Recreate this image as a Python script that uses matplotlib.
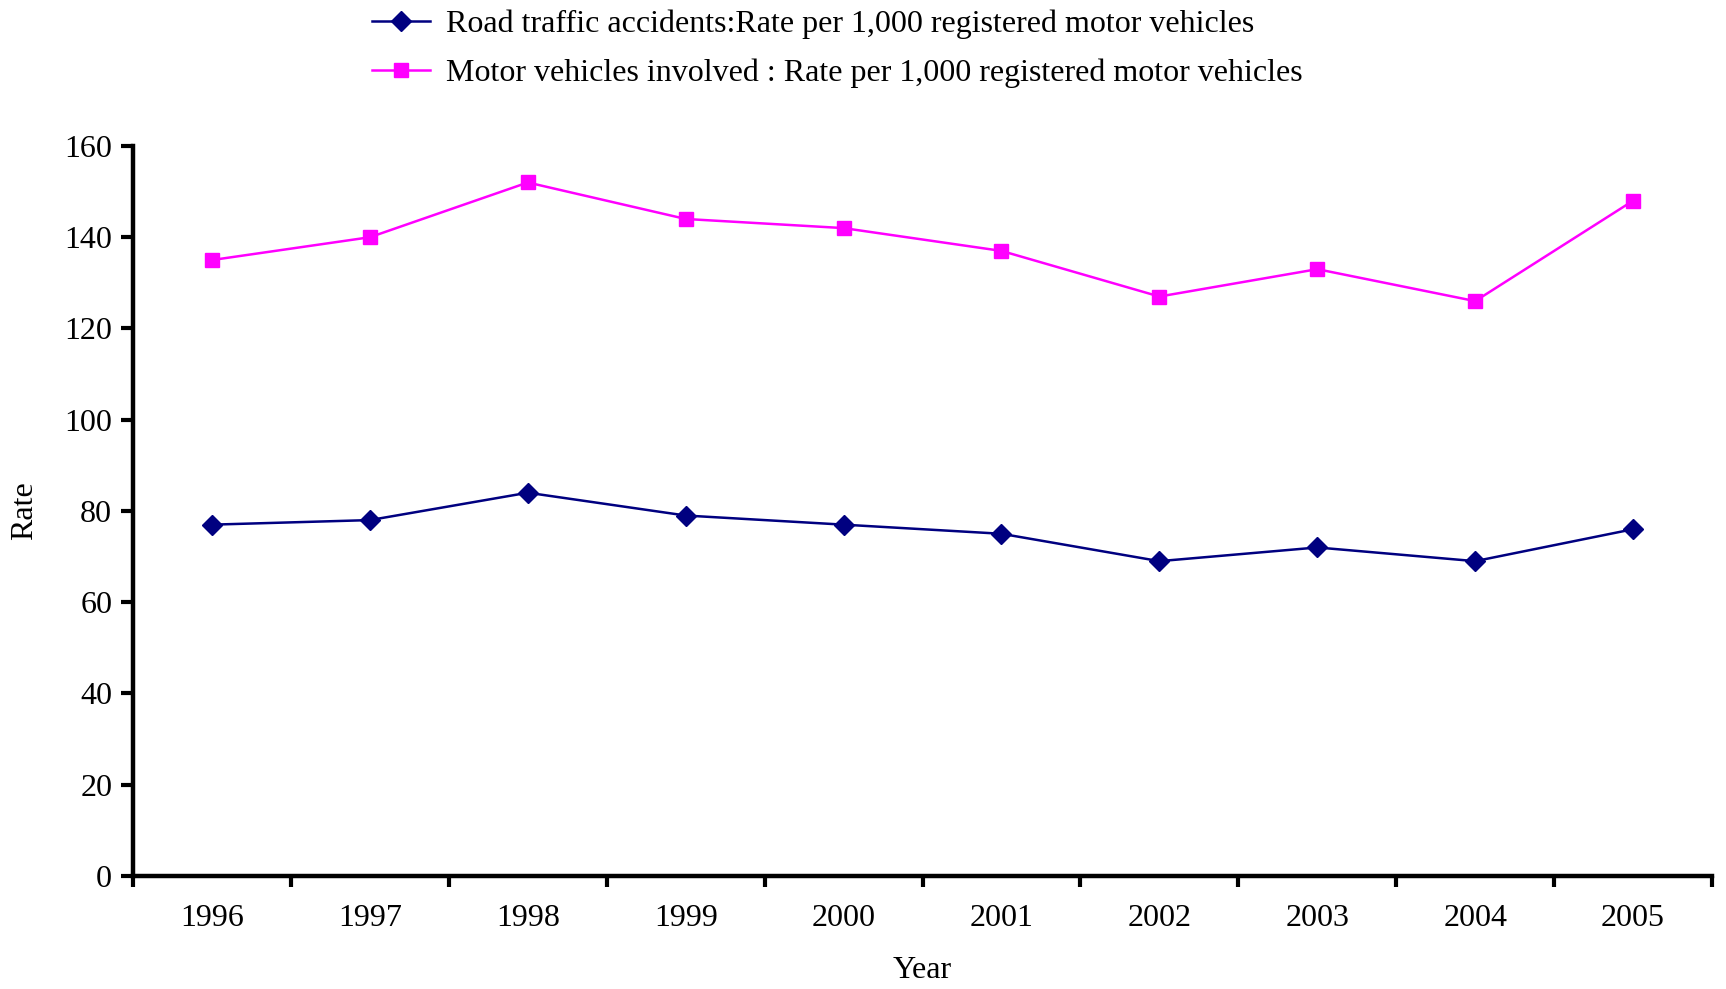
import numpy as np
import matplotlib
matplotlib.use("Agg")
import matplotlib.pyplot as plt

# datos
years = ["1996", "1997", "1998", "1999", "2000", "2001", "2002", "2003", "2004", "2005"]
accidents_rate = [77, 78, 84, 79, 77, 75, 69, 72, 69, 76]
vehicles_rate = [135, 140, 152, 144, 142, 137, 127, 133, 126, 148]

label_acc = "Road traffic accidents:Rate per 1,000 registered motor vehicles"
label_veh = "Motor vehicles involved : Rate per 1,000 registered motor vehicles"

plt.rcParams['font.family'] = ['Liberation Serif', 'DejaVu Serif']

fig = plt.figure(figsize=(17.26, 9.89), dpi=100)
ax = fig.add_axes([0.0771, 0.1143, 0.9148, 0.7381])

x = np.arange(len(years))
ax.plot(x, accidents_rate, color="#000080", marker="D", markersize=10,
        linewidth=1.8, label=label_acc)
ax.plot(x, vehicles_rate, color="#FF00FF", marker="s", markersize=10,
        linewidth=1.8, label=label_veh)

# ejes
ax.set_xlim(-0.5, len(years) - 0.5)
ax.set_ylim(0, 160)
ax.set_yticks(np.arange(0, 161, 20))
ax.set_xticks(x)
ax.set_xticklabels(years)
ax.set_xticks(np.arange(-0.5, len(years), 1.0), minor=True)

for side in ["top", "right"]:
    ax.spines[side].set_visible(False)
for side in ["left", "bottom"]:
    ax.spines[side].set_linewidth(3.2)

ax.tick_params(axis="x", which="major", length=0, pad=20, labelsize=23)
ax.tick_params(axis="x", which="minor", length=8, width=3.0, direction="out")
ax.tick_params(axis="y", length=9, width=3.0, direction="out", pad=6, labelsize=23)

ax.set_xlabel("Year", fontsize=23, va="center")
ax.xaxis.set_label_coords(0.5, -0.130)
ax.set_ylabel("Rate", fontsize=23, va="center")
ax.yaxis.set_label_coords(-0.069, 0.5)

# leyenda arriba
fig.legend(loc="upper left", bbox_to_anchor=(0.199, 1.019), frameon=False,
           fontsize=23, handlelength=1.8, handletextpad=0.5, labelspacing=0.6)

fig.savefig("out.png", dpi=100)
